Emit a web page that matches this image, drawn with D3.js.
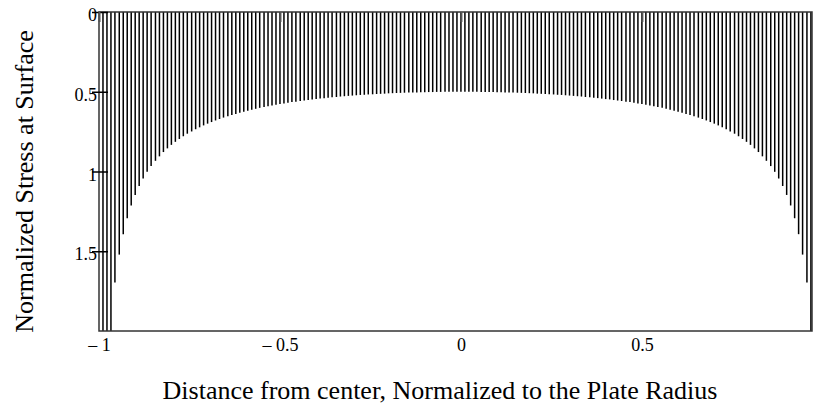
<!DOCTYPE html>
<html>
<head>
<meta charset="utf-8">
<script src="https://cdn.jsdelivr.net/npm/d3@7"></script>
<style>
  body { margin: 0; background: #fff; }
  text { font-family: "Liberation Serif", "Times New Roman", serif; fill: #000; }
</style>
</head>
<body>
<div id="chart"></div>
<script>
// Sample positions along the plate (normalized radius)
var xPos = [
  -0.989, -0.978, -0.967, -0.956, -0.944, -0.933, -0.922, -0.911, -0.900, -0.889,
  -0.878, -0.867, -0.856, -0.844, -0.833, -0.822, -0.811, -0.800, -0.789, -0.778,
  -0.767, -0.756, -0.744, -0.733, -0.722, -0.711, -0.700, -0.689, -0.678, -0.667,
  -0.656, -0.644, -0.633, -0.622, -0.611, -0.600, -0.589, -0.578, -0.567, -0.556,
  -0.544, -0.533, -0.522, -0.511, -0.500, -0.489, -0.478, -0.467, -0.456, -0.444,
  -0.433, -0.422, -0.411, -0.400, -0.389, -0.378, -0.367, -0.356, -0.344, -0.333,
  -0.322, -0.311, -0.300, -0.289, -0.278, -0.267, -0.256, -0.244, -0.233, -0.222,
  -0.211, -0.200, -0.189, -0.178, -0.167, -0.156, -0.144, -0.133, -0.122, -0.111,
  -0.100, -0.089, -0.078, -0.067, -0.056, -0.044, -0.033, -0.022, -0.011, 0.000,
  0.011, 0.022, 0.033, 0.044, 0.056, 0.067, 0.078, 0.089, 0.100, 0.111,
  0.122, 0.133, 0.144, 0.156, 0.167, 0.178, 0.189, 0.200, 0.211, 0.222,
  0.233, 0.244, 0.256, 0.267, 0.278, 0.289, 0.300, 0.311, 0.322, 0.333,
  0.344, 0.356, 0.367, 0.378, 0.389, 0.400, 0.411, 0.422, 0.433, 0.444,
  0.456, 0.467, 0.478, 0.489, 0.500, 0.511, 0.522, 0.533, 0.544, 0.556,
  0.567, 0.578, 0.589, 0.600, 0.611, 0.622, 0.633, 0.644, 0.656, 0.667,
  0.678, 0.689, 0.700, 0.711, 0.722, 0.733, 0.744, 0.756, 0.767, 0.778,
  0.789, 0.800, 0.811, 0.822, 0.833, 0.844, 0.856, 0.867, 0.878, 0.889,
  0.900, 0.911, 0.922, 0.933, 0.944, 0.956, 0.967
];

// Normalized surface stress at each position (values past the bottom edge are clipped)
var stress = [
  3.363, 2.385, 2.000, 1.696, 1.521, 1.393, 1.293, 1.213, 1.147, 1.091,
  1.044, 1.002, 0.966, 0.933, 0.905, 0.878, 0.855, 0.833, 0.814, 0.796,
  0.779, 0.763, 0.749, 0.735, 0.723, 0.711, 0.700, 0.690, 0.680, 0.671,
  0.662, 0.654, 0.646, 0.639, 0.632, 0.625, 0.619, 0.613, 0.607, 0.601,
  0.596, 0.591, 0.586, 0.582, 0.577, 0.573, 0.569, 0.565, 0.562, 0.558,
  0.555, 0.552, 0.548, 0.546, 0.543, 0.540, 0.537, 0.535, 0.533, 0.530,
  0.528, 0.526, 0.524, 0.522, 0.520, 0.519, 0.517, 0.516, 0.514, 0.513,
  0.512, 0.510, 0.509, 0.508, 0.507, 0.506, 0.505, 0.505, 0.504, 0.503,
  0.503, 0.502, 0.502, 0.501, 0.501, 0.500, 0.500, 0.500, 0.500, 0.500,
  0.500, 0.500, 0.500, 0.500, 0.501, 0.501, 0.502, 0.502, 0.503, 0.503,
  0.504, 0.505, 0.505, 0.506, 0.507, 0.508, 0.509, 0.510, 0.512, 0.513,
  0.514, 0.516, 0.517, 0.519, 0.520, 0.522, 0.524, 0.526, 0.528, 0.530,
  0.533, 0.535, 0.537, 0.540, 0.543, 0.546, 0.548, 0.552, 0.555, 0.558,
  0.562, 0.565, 0.569, 0.573, 0.577, 0.582, 0.586, 0.591, 0.596, 0.601,
  0.607, 0.613, 0.619, 0.625, 0.632, 0.639, 0.646, 0.654, 0.662, 0.671,
  0.680, 0.690, 0.700, 0.711, 0.723, 0.735, 0.749, 0.763, 0.779, 0.796,
  0.814, 0.833, 0.855, 0.878, 0.905, 0.933, 0.966, 1.002, 1.044, 1.091,
  1.147, 1.213, 1.293, 1.393, 1.521, 1.696, 2.000
];

// Tick values
var xTicks = [-1, -0.5, 0, 0.5];
var yTicks = [0, 0.5, 1, 1.5];

// Size variables
var width = 814;
var height = 409;
var plotLeft = 99, plotRight = 812, plotTop = 12, plotBottom = 331;

// SVG container
var svg = d3.select('#chart')
    .append('svg')
    .attr('width', width)
    .attr('height', height);

svg.append('rect')
    .attr('width', width)
    .attr('height', height)
    .attr('fill', '#fff');

// Scales (y runs downward: 0 at the top)
var xScale = d3.scaleLinear()
    .domain([-1, 0.97])
    .range([plotLeft, plotRight]);

var yScale = d3.scaleLinear()
    .domain([0, 2])
    .range([plotTop, plotBottom])
    .clamp(true);

// Stems from zero down to the stress value
svg.append('g')
    .selectAll('line')
    .data(stress)
    .enter()
    .append('line')
    .attr('x1', (d, i) => xScale(xPos[i]))
    .attr('x2', (d, i) => xScale(xPos[i]))
    .attr('y1', yScale(0))
    .attr('y2', (d) => yScale(d))
    .attr('stroke', '#000')
    .attr('stroke-width', 1.5);

// Frame
svg.append('rect')
    .attr('x', plotLeft)
    .attr('y', plotTop)
    .attr('width', plotRight - plotLeft)
    .attr('height', plotBottom - plotTop)
    .attr('fill', 'none')
    .attr('stroke', '#333')
    .attr('stroke-width', 1.5);

// y axis
var yAxis = d3.axisLeft(yScale)
    .tickValues(yTicks)
    .tickFormat((d) => d)
    .tickSize(7)
    .tickPadding(3);

var yG = svg.append('g')
    .attr('transform', `translate(${plotLeft}, 0)`)
    .call(yAxis);

yG.select('.domain').remove();
yG.selectAll('.tick line')
    .attr('x1', 9)
    .attr('stroke', '#000')
    .attr('stroke-width', 1.5);
yG.selectAll('.tick text')
    .attr('x', -2)
    .attr('dy', 8.5)
    .style('font-size', '18px');

// x axis labels along the bottom
var xAxis = d3.axisBottom(xScale)
    .tickValues(xTicks)
    .tickFormat((d) => d < 0 ? '\u2013 ' + Math.abs(d) : d)
    .tickSize(0)
    .tickPadding(0);

var xG = svg.append('g')
    .attr('transform', `translate(0, ${plotBottom})`)
    .call(xAxis);

xG.select('.domain').remove();
xG.selectAll('.tick text')
    .attr('y', 0)
    .attr('dy', 20)
    .style('font-size', '18px');

// x tick marks on the top edge
var xTop = svg.append('g')
    .attr('transform', `translate(0, ${plotTop})`)
    .call(d3.axisTop(xScale).tickValues(xTicks).tickSize(-10).tickFormat(''));

xTop.select('.domain').remove();
xTop.selectAll('.tick line')
    .attr('stroke', '#555')
    .attr('stroke-width', 2);

// Axis titles
svg.append('text')
    .attr('x', 440)
    .attr('y', 399)
    .attr('text-anchor', 'middle')
    .style('font-size', '26px')
    .text('Distance from center, Normalized to the Plate Radius');

svg.append('text')
    .attr('transform', `translate(33, ${(plotTop + plotBottom) / 2 + 10}) rotate(-90)`)
    .attr('text-anchor', 'middle')
    .style('font-size', '26px')
    .text('Normalized Stress at Surface');
</script>
</body>
</html>
